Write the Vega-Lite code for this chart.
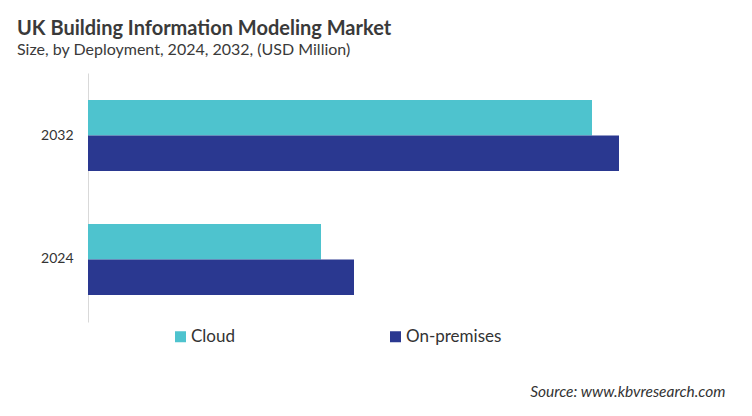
{
  "$schema": "https://vega.github.io/schema/vega-lite/v6.json",
  "width": 650,
  "height": 249,
  "autosize": {"type": "none"},
  "padding": {"left": 88, "top": 73, "right": 14, "bottom": 94},
  "background": "white",
  "title": {
    "text": "UK Building Information Modeling Market",
    "subtitle": "Size, by Deployment, 2024, 2032, (USD Million)",
    "anchor": "start",
    "frame": "group",
    "dx": -71,
    "offset": 15,
    "font": "Lato",
    "fontSize": 20,
    "fontWeight": "bold",
    "color": "#3a3a3a",
    "subtitleFont": "Lato",
    "subtitleFontSize": 16,
    "subtitleColor": "#3a3a3a",
    "subtitlePadding": 3
  },
  "data": {
    "values": [
      {"year": "2032", "deployment": "Cloud", "value": 504},
      {"year": "2032", "deployment": "On-premises", "value": 531},
      {"year": "2024", "deployment": "Cloud", "value": 233},
      {"year": "2024", "deployment": "On-premises", "value": 266}
    ]
  },
  "mark": {"type": "bar"},
  "encoding": {
    "y": {
      "field": "year",
      "type": "nominal",
      "sort": ["2032", "2024"],
      "scale": {"paddingInner": 0.427, "paddingOuter": 0.218},
      "axis": {
        "title": null,
        "domainColor": "#d9d9d9",
        "ticks": false,
        "labelPadding": 15,
        "labelFont": "Lato",
        "labelFontSize": 14,
        "labelColor": "#333333"
      }
    },
    "yOffset": {
      "field": "deployment",
      "type": "nominal",
      "sort": ["Cloud", "On-premises"]
    },
    "x": {
      "field": "value",
      "type": "quantitative",
      "scale": {"domain": [0, 650]},
      "axis": {
        "domain": false,
        "ticks": false,
        "labels": false,
        "grid": false,
        "title": "Source: www.kbvresearch.com",
        "titleFont": "Lato",
        "titleFontSize": 15.5,
        "titleFontStyle": "italic",
        "titleFontWeight": "normal",
        "titleColor": "#333333",
        "titleAnchor": "end",
        "titleAlign": "right",
        "titleBaseline": "alphabetic",
        "titleX": 637,
        "titleY": 74
      }
    },
    "color": {
      "field": "deployment",
      "type": "nominal",
      "scale": {"domain": ["Cloud", "On-premises"], "range": ["#4ec3ce", "#2a3890"]},
      "legend": {
        "title": null,
        "orient": "none",
        "direction": "horizontal",
        "legendX": 84,
        "legendY": 255,
        "symbolType": "square",
        "symbolSize": 121,
        "symbolStrokeWidth": 0,
        "labelFont": "Lato",
        "labelFontSize": 17,
        "labelColor": "#333333",
        "labelOffset": 2,
        "gridAlign": "all",
        "columnPadding": 100
      }
    }
  },
  "config": {
    "view": {"stroke": null},
    "axis": {"grid": false}
  }
}
